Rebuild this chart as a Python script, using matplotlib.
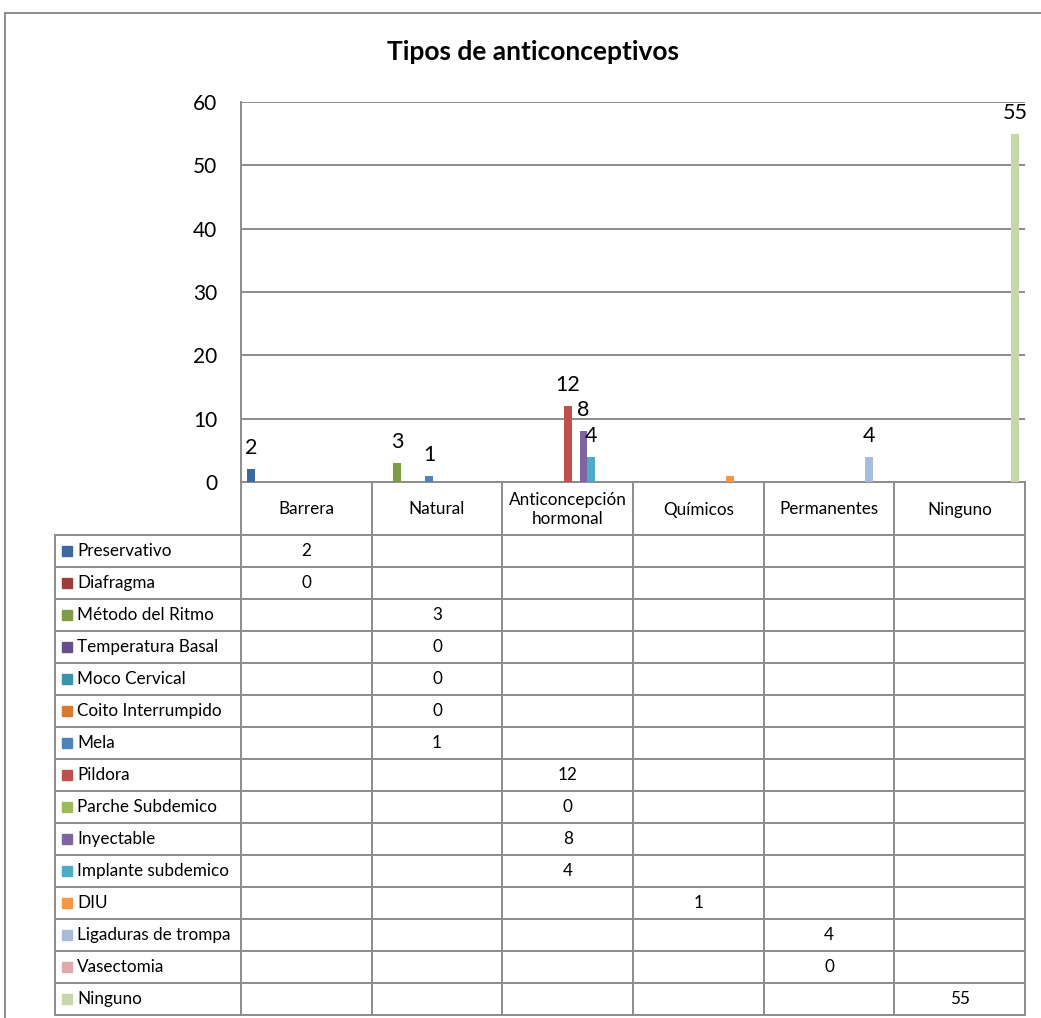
import matplotlib.pyplot as plt
from matplotlib.patches import Rectangle

plt.rcParams['font.family'] = ['Lato', 'DejaVu Sans']

# data
categorias = ['Barrera', 'Natural', 'Anticoncepción\nhormonal', 'Químicos', 'Permanentes', 'Ninguno']
series = ['Preservativo', 'Diafragma', 'Método del Ritmo', 'Temperatura Basal', 'Moco Cervical',
          'Coito Interrumpido', 'Mela', 'Pildora', 'Parche Subdemico', 'Inyectable',
          'Implante subdemico', 'DIU', 'Ligaduras de trompa', 'Vasectomia', 'Ninguno']
# category index of each series and its value
serie_cat = [0, 0, 1, 1, 1, 1, 1, 2, 2, 2, 2, 3, 4, 4, 5]
valores = [2, 0, 3, 0, 0, 0, 1, 12, 0, 8, 4, 1, 4, 0, 55]
mostrar_etiqueta = [True, False, True, False, False, False, True, True, False, True, True, False, True, False, True]
colores = ['#3D6A9E', '#9E3C39', '#7E9C45', '#67508A', '#3A93AA', '#D9792F', '#4F81BD',
           '#C0504D', '#9BBB59', '#8064A2', '#4BACC6', '#F79646', '#A9BBDB', '#DCAAA9', '#C6D7AB']
yticks = [0, 10, 20, 30, 40, 50, 60]

W, H = 1041, 1018
fig = plt.figure(figsize=(W / 100, H / 100), dpi=100)
gris = '#8C8C8C'

# plot area in pixels
x0, x1, ytop, ybot = 241, 1025, 102, 482
ax = fig.add_axes([x0 / W, 1 - ybot / H, (x1 - x0) / W, (ybot - ytop) / H])
n = len(series)
w = 1 / (n + 1.5)
for i in range(n):
    x = serie_cat[i] + (i - (n - 1) / 2) * w
    ax.bar(x, valores[i], width=w, color=colores[i], zorder=3)
    if mostrar_etiqueta[i]:
        ax.annotate(str(valores[i]), (x, valores[i]), xytext=(0, 15), textcoords='offset points',
                    ha='center', va='center', fontsize=15.5, zorder=4)
ax.set_xlim(-0.5, len(categorias) - 0.5)
ax.set_ylim(0, 60)
ax.set_yticks(yticks)
ax.set_xticks([])
ax.tick_params(axis='y', length=0, pad=17, labelsize=15)
ax.grid(axis='y', color=gris, lw=1.4, zorder=0)
for s in ['top', 'right', 'bottom']:
    ax.spines[s].set_visible(False)
ax.spines['left'].set_color(gris)
ax.spines['left'].set_linewidth(1.4)
ax.patch.set_alpha(0)

# overlay in pixel coordinates for title, frame and data table
ov = fig.add_axes([0, 0, 1, 1], zorder=-1)
ov.set_xlim(0, W)
ov.set_ylim(H, 0)
ov.axis('off')

ov.plot([5, 5], [H + 5, 13], color=gris, lw=1.4)
ov.plot([5, W + 5], [13, 13], color=gris, lw=1.4)
ov.text(533, 52, 'Tipos de anticonceptivos', ha='center', va='center', fontsize=19, fontweight='bold')

# table
lab_x0 = 55
head_bot = 535
fila_h = 32
tab_bot = head_bot + fila_h * n
colw = (x1 - x0) / len(categorias)
col_x = [x0 + colw * j for j in range(len(categorias) + 1)]
fs = 12.3

for j, cx in enumerate(col_x):
    ov.plot([cx, cx], [ybot, tab_bot], color=gris, lw=1.4)
ov.plot([lab_x0, lab_x0], [head_bot, tab_bot], color=gris, lw=1.4)
ov.plot([x0, x1], [ybot, ybot], color=gris, lw=1.4)
for r in range(n + 1):
    yy = head_bot + r * fila_h
    ov.plot([lab_x0, x1], [yy, yy], color=gris, lw=1.4)

for j, c in enumerate(categorias):
    ov.text((col_x[j] + col_x[j + 1]) / 2, (ybot + head_bot) / 2 + 1, c, ha='center', va='center',
            fontsize=fs, linespacing=1.25)

for i in range(n):
    yc = head_bot + (i + 0.5) * fila_h
    ov.add_patch(Rectangle((62, yc - 5), 10, 10, color=colores[i]))
    ov.text(77, yc, series[i], ha='left', va='center', fontsize=fs)
    j = serie_cat[i]
    ov.text((col_x[j] + col_x[j + 1]) / 2, yc, str(valores[i]), ha='center', va='center', fontsize=fs)

fig.savefig('out.png', dpi=100)
